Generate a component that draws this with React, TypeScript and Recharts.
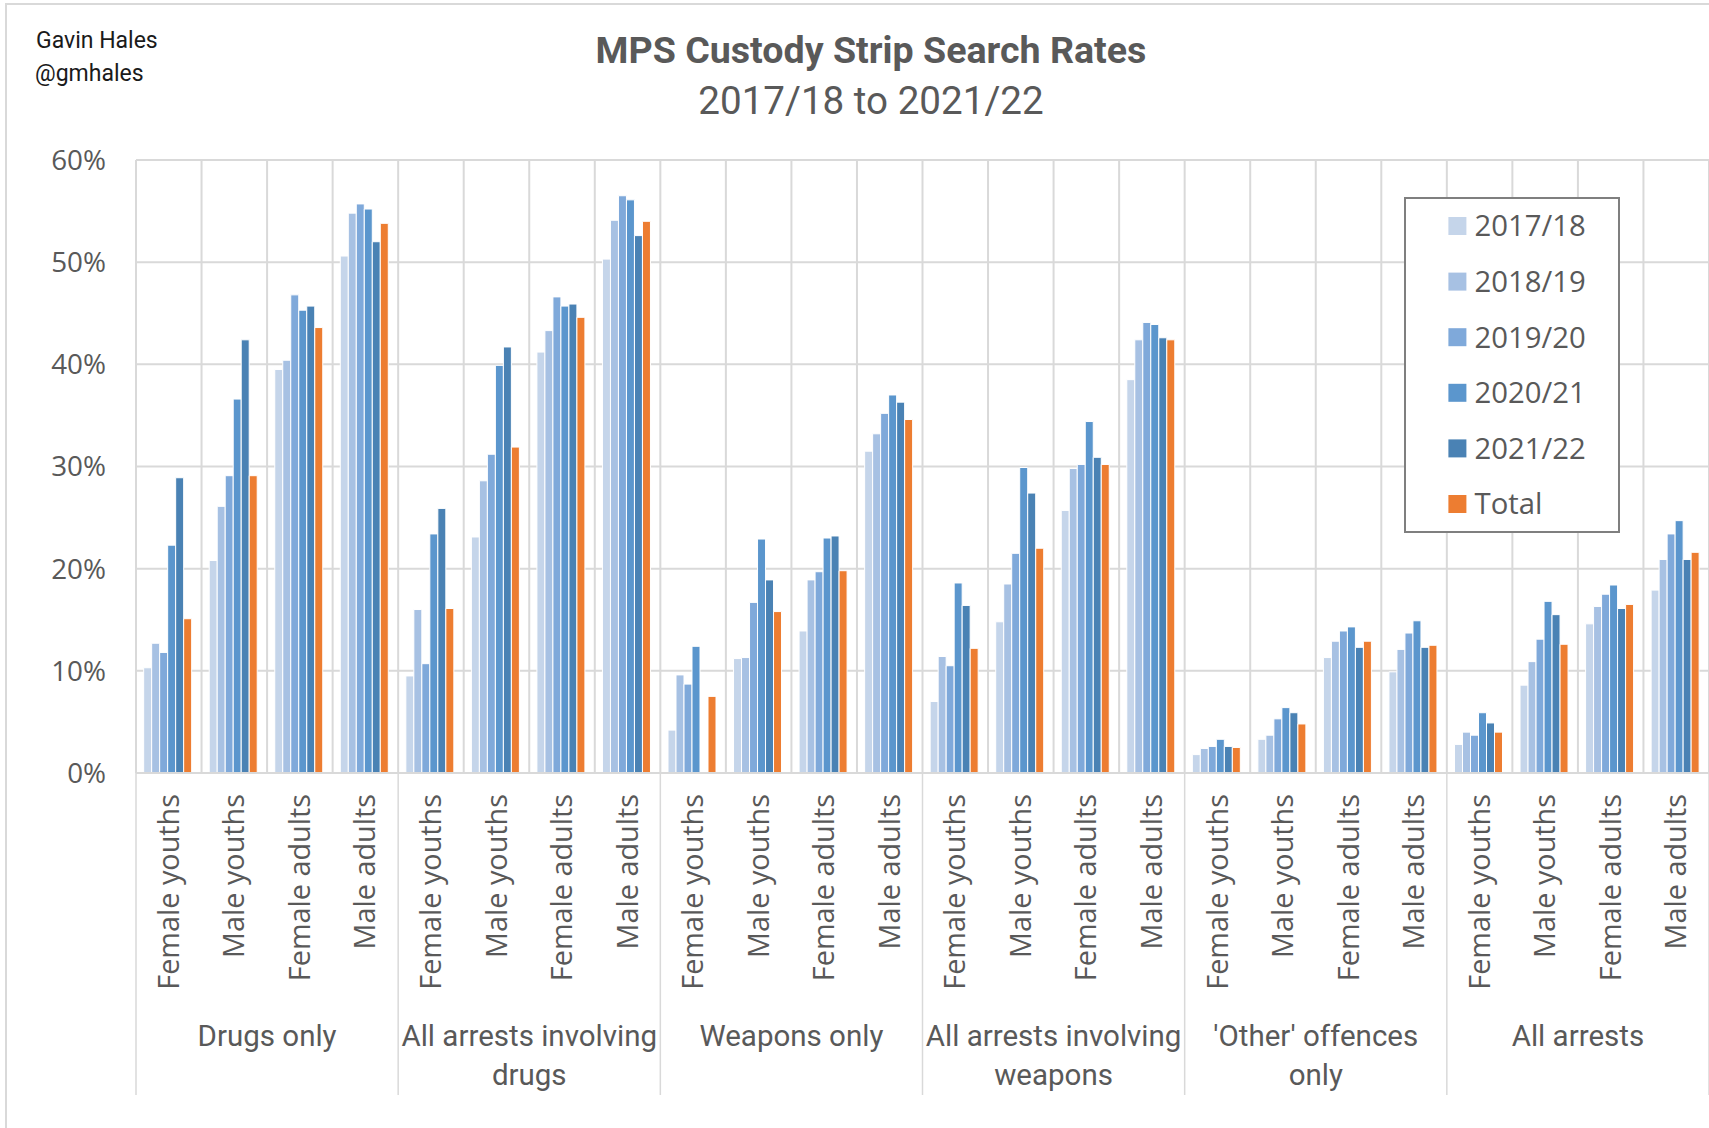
import React from 'react';
import { BarChart, Bar, XAxis, YAxis, CartesianGrid, Legend } from 'recharts';

// ---------- data ----------
const groupLabels: string[][] = [
  ['Drugs only'],
  ['All arrests involving', 'drugs'],
  ['Weapons only'],
  ['All arrests involving', 'weapons'],
  ["'Other' offences", 'only'],
  ['All arrests'],
];
const subgroups = ['Female youths', 'Male youths', 'Female adults', 'Male adults'];

const seriesNames = ['2017/18', '2018/19', '2019/20', '2020/21', '2021/22', 'Total'];
const seriesKeys = ['y2017', 'y2018', 'y2019', 'y2020', 'y2021', 'total'];
const seriesColors = ['#c5d5ea', '#a7c1e3', '#7fa9da', '#5b96cd', '#4a82b4', '#ed7d31'];

// values in %, order: group by group, 4 subgroups each
const v2017 = [10.3, 20.8, 39.5, 50.6, 9.5, 23.1, 41.2, 50.3, 4.2, 11.2, 13.9, 31.5, 7.0, 14.8, 25.7, 38.5, 1.8, 3.3, 11.3, 9.9, 2.8, 8.6, 14.6, 17.9];
const v2018 = [12.7, 26.1, 40.4, 54.8, 16.0, 28.6, 43.3, 54.1, 9.6, 11.3, 18.9, 33.2, 11.4, 18.5, 29.8, 42.4, 2.4, 3.7, 12.9, 12.1, 4.0, 10.9, 16.3, 20.9];
const v2019 = [11.8, 29.1, 46.8, 55.7, 10.7, 31.2, 46.6, 56.5, 8.7, 16.7, 19.7, 35.2, 10.5, 21.5, 30.2, 44.1, 2.6, 5.3, 13.9, 13.7, 3.7, 13.1, 17.5, 23.4];
const v2020 = [22.3, 36.6, 45.3, 55.2, 23.4, 39.9, 45.7, 56.1, 12.4, 22.9, 23.0, 37.0, 18.6, 29.9, 34.4, 43.9, 3.3, 6.4, 14.3, 14.9, 5.9, 16.8, 18.4, 24.7];
const v2021 = [28.9, 42.4, 45.7, 52.0, 25.9, 41.7, 45.9, 52.6, null, 18.9, 23.2, 36.3, 16.4, 27.4, 30.9, 42.6, 2.6, 5.9, 12.3, 12.3, 4.9, 15.5, 16.1, 20.9];
const vTotal = [15.1, 29.1, 43.6, 53.8, 16.1, 31.9, 44.6, 54.0, 7.5, 15.8, 19.8, 34.6, 12.2, 22.0, 30.2, 42.4, 2.5, 4.8, 12.9, 12.5, 4.0, 12.6, 16.5, 21.6];
const seriesValues = [v2017, v2018, v2019, v2020, v2021, vTotal];

const yTicks = [0, 10, 20, 30, 40, 50, 60];

const data = groupLabels.flatMap((g, gi) =>
  subgroups.map((s, si) => {
    const i = gi * 4 + si;
    const row: any = { id: `${gi}-${si}`, sub: s, groupIndex: gi };
    seriesKeys.forEach((k, ki) => {
      row[k] = seriesValues[ki][i];
    });
    return row;
  })
);

// ---------- layout ----------
const W = 1709;
const H = 1128;
const PLOT_LEFT = 136;
const PLOT_TOP = 160;
const X_AXIS_H = 330;
const BOTTOM = 25;
const PLOT_W = W - PLOT_LEFT;
const BAND = PLOT_W / data.length;

const GREY = '#595959';
const GRID = '#d9d9d9';
const SEGOE = "'Open Sans', 'Noto Sans', sans-serif";
const CALIBRI = "Roboto, 'Liberation Sans', sans-serif";

function CategoryTick(props: any) {
  const { x, y, index } = props;
  const row = data[index];
  if (!row) return null;
  const first = index % 4 === 0;
  const last = index === data.length - 1;
  const lines = groupLabels[row.groupIndex];
  return (
    <g>
      <text
        transform={`translate(${x},${y + 21}) rotate(-90)`}
        textAnchor="end"
        dy="0.35em"
        fontFamily={SEGOE}
        fontSize={28.8}
        fill={GREY}
      >
        {row.sub}
      </text>
      {first && (
        <line x1={x - BAND / 2} x2={x - BAND / 2} y1={y} y2={y + 322} stroke={GRID} strokeWidth={1.5} />
      )}
      {last && (
        <line x1={x + BAND / 2} x2={x + BAND / 2} y1={y} y2={y + 322} stroke={GRID} strokeWidth={1.5} />
      )}
      {first &&
        lines.map((ln, li) => (
          <text
            key={li}
            x={x + 1.5 * BAND}
            y={y + 273 + li * 39}
            textAnchor="middle"
            fontFamily={CALIBRI}
            fontSize={29.5}
            fill={GREY}
          >
            {ln}
          </text>
        ))}
    </g>
  );
}

function LegendBox(props: any) {
  const payload = props.payload || [];
  const items = payload.length
    ? payload.map((p: any) => ({ name: p.value, color: p.color }))
    : seriesNames.map((n, i) => ({ name: n, color: seriesColors[i] }));
  return (
    <svg width={216} height={336} style={{ display: 'block' }}>
      <rect x={1} y={1} width={214} height={334} fill="#fff" stroke="#7f7f7f" strokeWidth={2} />
      {items.map((it: any, i: number) => {
        const cy = 29 + i * 55.6;
        return (
          <g key={it.name}>
            <rect x={44.4} y={cy - 9} width={18} height={18} fill={it.color} />
            <text x={70.5} y={cy + 10.4} fontFamily={SEGOE} fontSize={29.3} fill={GREY}>
              {it.name}
            </text>
          </g>
        );
      })}
    </svg>
  );
}

export default function App() {
  return (
    <div style={{ position: 'absolute', left: 0, top: 0, width: W, height: H, overflow: 'hidden', background: '#fff' }}>
      <div
        style={{
          position: 'absolute',
          left: 5,
          top: 3,
          width: W + 20,
          height: H + 20,
          borderLeft: `2px solid ${GRID}`,
          borderTop: `2px solid ${GRID}`,
        }}
      />
      <div style={{ position: 'absolute', left: 0, top: 0 }}>
        <BarChart
          width={W}
          height={H}
          data={data}
          margin={{ top: PLOT_TOP, right: 0, bottom: BOTTOM, left: 0 }}
          barCategoryGap="11.7%"
          barGap={0}
        >
          <CartesianGrid
            stroke={GRID}
            strokeWidth={2}
            verticalCoordinatesGenerator={({ offset }: any) =>
              Array.from({ length: data.length + 1 }, (_, i) => offset.left + (i * offset.width) / data.length)
            }
          />
          <XAxis
            dataKey="id"
            xAxisId={0}
            height={X_AXIS_H}
            interval={0}
            tickLine={false}
            tickSize={0}
            tickMargin={0}
            axisLine={{ stroke: GRID, strokeWidth: 2 }}
            tick={(p: any) => <CategoryTick {...p} />}
          />
          <YAxis
            width={PLOT_LEFT}
            domain={[0, 60]}
            ticks={yTicks}
            interval={0}
            axisLine={false}
            tickLine={false}
            tickSize={0}
            tickMargin={30}
            tickFormatter={(v: number) => `${v}%`}
            tick={{ fontFamily: SEGOE, fontSize: 27.8, fill: GREY }}
          />
          <Legend
            layout="vertical"
            align="center"
            verticalAlign="middle"
            content={(p: any) => <LegendBox {...p} />}
            wrapperStyle={{ left: 1404, top: 197, width: 216, height: 336 }}
          />
          {seriesKeys.map((k, i) => (
            <Bar
              key={k}
              dataKey={k}
              name={seriesNames[i]}
              fill={seriesColors[i]}
              stroke="#ffffff"
              strokeWidth={1}
              isAnimationActive={false}
            />
          ))}
        </BarChart>
      </div>
      <svg
        width={W}
        height={H}
        style={{ position: 'absolute', left: 0, top: 0, pointerEvents: 'none' }}
      >
        <text x={36} y={48} fontFamily={CALIBRI} fontSize={23} fill="#1a1a1a">Gavin Hales</text>
        <text x={35} y={81} fontFamily={CALIBRI} fontSize={23} fill="#1a1a1a">@gmhales</text>
        <text x={871} y={63} textAnchor="middle" fontFamily={CALIBRI} fontSize={37.6} fontWeight="bold" fill={GREY}>
          MPS Custody Strip Search Rates
        </text>
        <text x={871} y={114} textAnchor="middle" fontFamily={CALIBRI} fontSize={38.6} fill={GREY}>
          2017/18 to 2021/22
        </text>
      </svg>
    </div>
  );
}
